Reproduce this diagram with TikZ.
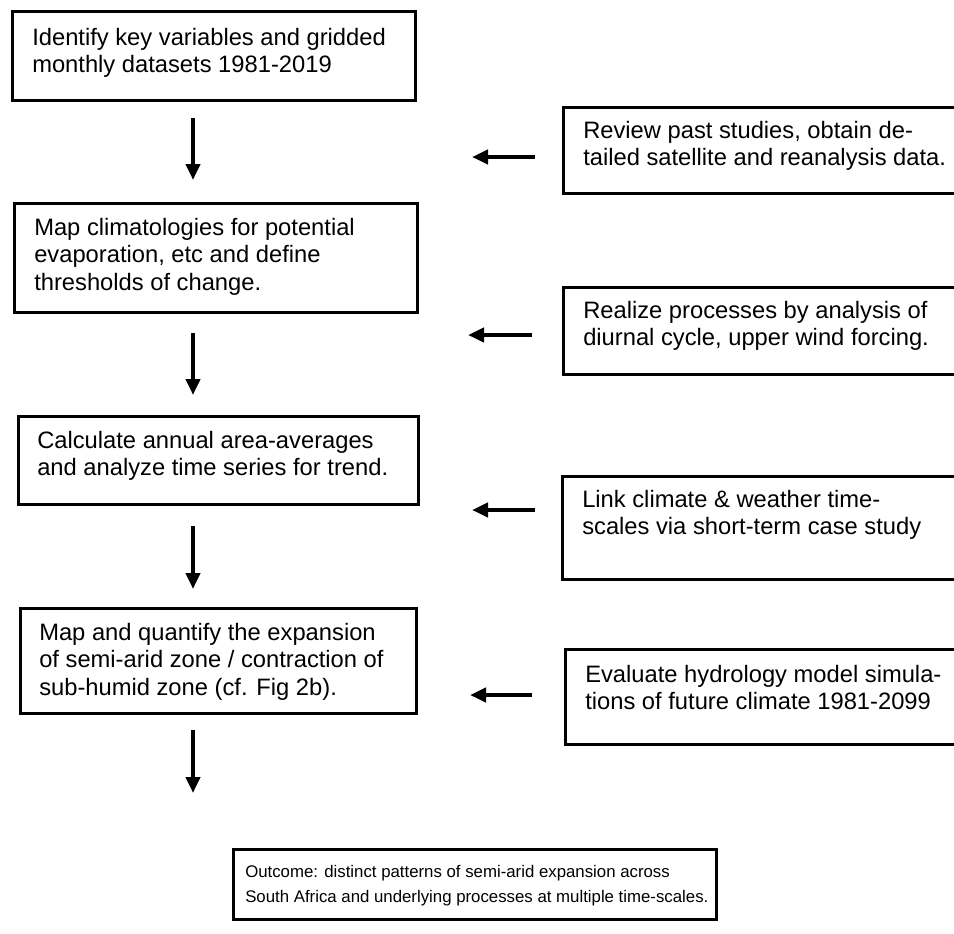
\documentclass[tikz,border=0pt]{standalone}
\usepackage{fontspec}
\setmainfont{Liberation Sans}
\usetikzlibrary{arrows.meta}
\begin{document}
\begin{tikzpicture}[x=0.75pt,y=-0.75pt,
  box/.style={draw=black,line width=2.25pt,rectangle,anchor=north west,inner sep=0pt},
  txt/.style={anchor=base west,align=left,inner sep=0pt,font=\fontsize{17.8pt}{20.6pt}\selectfont},
  smalltxt/.style={anchor=base west,align=left,inner sep=0pt,font=\fontsize{12.6pt}{18.75pt}\selectfont},
  arr/.style={line width=3pt,-{Triangle[length=12pt,width=10.5pt]}}]
\useasboundingbox[fill=white] (0,0) rectangle (954,933);
% left column boxes
\node[box,minimum width=302.25pt,minimum height=66.75pt] (b1) at (11,10) {};
\node[box,minimum width=302.25pt,minimum height=81.75pt] (b2) at (13,202) {};
\node[box,minimum width=300pt,minimum height=66pt] (b3) at (17,415) {};
\node[box,minimum width=297pt,minimum height=78.75pt] (b4) at (19,607) {};
\node[box,minimum width=362.25pt,minimum height=52.5pt] (bo) at (232,848) {};
% right column boxes
\node[box,minimum width=295.5pt,minimum height=64.5pt] (rA) at (562,106) {};
\node[box,minimum width=295.5pt,minimum height=65.25pt] (rB) at (562,286) {};
\node[box,minimum width=296.25pt,minimum height=77.25pt] (rC) at (561,475) {};
\node[box,minimum width=294pt,minimum height=71.25pt] (rD) at (564,648) {};
% texts (anchored at the baseline of the last line)
\node[txt] (t1) at (32,72.5) {Identify key variables and gridded\\monthly datasets 1981-2019};
\node[txt] (t2) at (34,290) {Map climatologies for potential\\evaporation, etc and define\\thresholds of change.};
\node[txt] (t3) at (37,475.5) {Calculate annual area-averages\\and analyze time series for trend.};
\node[txt] (t4) at (39,695) {Map and quantify the expansion\\of semi-arid zone / contraction of\\sub-humid zone (cf. Fig 2b).};
\node[txt] (tA) at (583,165.5) {Review past studies, obtain de-\\tailed satellite and reanalysis data.};
\node[txt] (tB) at (583,345.5) {Realize processes by analysis of\\diurnal cycle, upper wind forcing.};
\node[txt] (tC) at (582,534.5) {Link climate \& weather time-\\scales via short-term case study};
\node[txt] (tD) at (585,709.5) {Evaluate hydrology model simula-\\tions of future climate 1981-2099};
\node[smalltxt] (to) at (245,902) {Outcome: distinct patterns of semi-arid expansion across\\South Africa and underlying processes at multiple time-scales.};
% arrow end points
\coordinate (d1s) at (193,118); \coordinate (d1e) at (193,180);
\coordinate (d2s) at (193,333); \coordinate (d2e) at (193,395);
\coordinate (d3s) at (193,526); \coordinate (d3e) at (193,589);
\coordinate (d4s) at (193,730); \coordinate (d4e) at (193,793);
\coordinate (hAs) at (535,157); \coordinate (hAe) at (472,157);
\coordinate (hBs) at (532,335); \coordinate (hBe) at (468,335);
\coordinate (hCs) at (535,510); \coordinate (hCe) at (472,510);
\coordinate (hDs) at (532,695); \coordinate (hDe) at (470,695);
\draw[arr] (d1s) -- (d1e);
\draw[arr] (d2s) -- (d2e);
\draw[arr] (d3s) -- (d3e);
\draw[arr] (d4s) -- (d4e);
\draw[arr] (hAs) -- (hAe);
\draw[arr] (hBs) -- (hBe);
\draw[arr] (hCs) -- (hCe);
\draw[arr] (hDs) -- (hDe);
\end{tikzpicture}
\end{document}
